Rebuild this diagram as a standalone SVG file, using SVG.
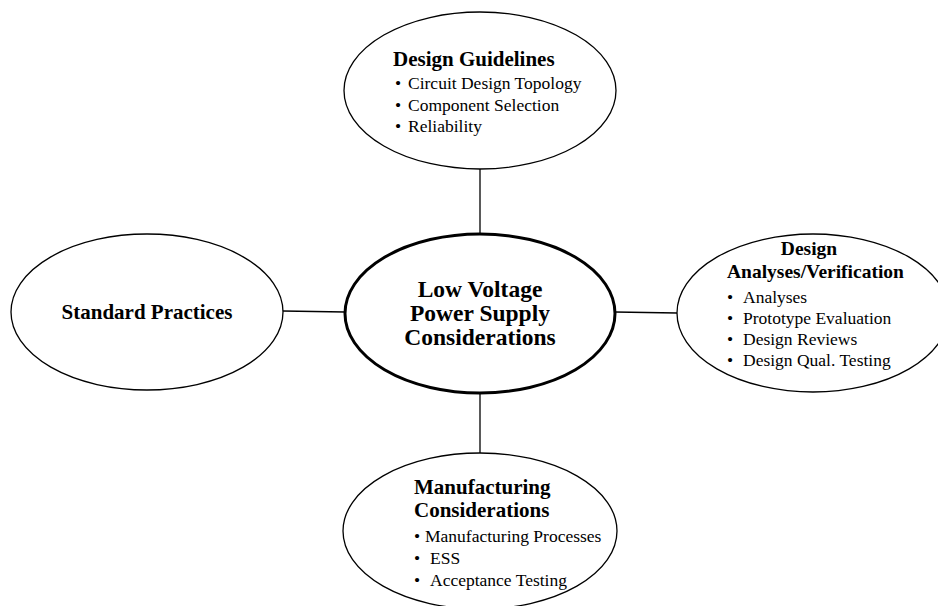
<svg xmlns="http://www.w3.org/2000/svg" width="938" height="606" viewBox="0 0 938 606">
<style>
.node{fill:#fff;stroke:#000;stroke-width:1.3}
.main{fill:#fff;stroke:#000;stroke-width:3}
.conn{stroke:#000;stroke-width:1.3;fill:none}
text{font-family:"Liberation Serif","Times New Roman",serif;fill:#000}
.h{font-weight:bold;font-size:21px}
.h2{font-weight:bold;font-size:19.5px}
.c{font-weight:bold;font-size:23.5px}
.b{font-size:17.5px}
</style>
<rect width="938" height="606" fill="#fff"/>
<g id="connectors">
<line class="conn" x1="480" y1="169" x2="480" y2="234"/>
<line class="conn" x1="480" y1="393" x2="480" y2="453"/>
<line class="conn" x1="283" y1="311" x2="345" y2="312"/>
<line class="conn" x1="615" y1="312" x2="677" y2="313"/>
</g>
<g id="design-guidelines">
<ellipse class="node" cx="480" cy="90.5" rx="136" ry="78.5"/>
<text class="h" x="393" y="66">Design Guidelines</text>
<text class="b" x="395" y="89">•</text><text class="b" x="408" y="89">Circuit Design Topology</text>
<text class="b" x="395" y="111">•</text><text class="b" x="408" y="111">Component Selection</text>
<text class="b" x="395" y="132">•</text><text class="b" x="408" y="132">Reliability</text>
</g>
<g id="standard-practices">
<ellipse class="node" cx="147" cy="312" rx="136" ry="78"/>
<text class="h" x="147" y="319" text-anchor="middle">Standard Practices</text>
</g>
<g id="center">
<ellipse class="main" cx="480" cy="313.5" rx="135" ry="79.5"/>
<text class="c" x="480" y="297" text-anchor="middle">Low Voltage</text>
<text class="c" x="480" y="321" text-anchor="middle">Power Supply</text>
<text class="c" x="480" y="345" text-anchor="middle">Considerations</text>
</g>
<g id="design-analyses">
<ellipse class="node" cx="813" cy="313" rx="136" ry="79"/>
<text class="h2" x="809" y="255" text-anchor="middle">Design</text>
<text class="h2" x="727" y="278">Analyses/Verification</text>
<text class="b" x="727" y="303">•</text><text class="b" x="743" y="303">Analyses</text>
<text class="b" x="727" y="324">•</text><text class="b" x="743" y="324">Prototype Evaluation</text>
<text class="b" x="727" y="345">•</text><text class="b" x="743" y="345">Design Reviews</text>
<text class="b" x="727" y="366">•</text><text class="b" x="743" y="366">Design Qual. Testing</text>
</g>
<g id="manufacturing">
<ellipse class="node" cx="480" cy="531" rx="137" ry="78"/>
<text class="h" x="414" y="494">Manufacturing</text>
<text class="h" x="414" y="517">Considerations</text>
<text class="b" x="414" y="542">•</text><text class="b" x="425" y="542">Manufacturing Processes</text>
<text class="b" x="414" y="564">•</text><text class="b" x="430" y="564">ESS</text>
<text class="b" x="414" y="586">•</text><text class="b" x="430" y="586">Acceptance Testing</text>
</g>
</svg>
